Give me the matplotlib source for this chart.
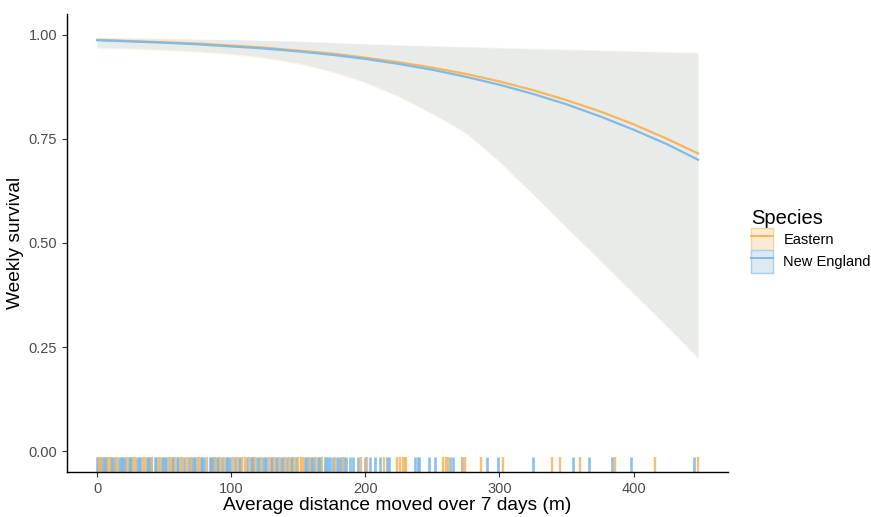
import numpy as np
import matplotlib
matplotlib.use("Agg")
import matplotlib.pyplot as plt
from matplotlib.patches import Patch
from matplotlib.lines import Line2D
import matplotlib.transforms as mtransforms

plt.rcParams['font.family'] = ['Liberation Sans', 'DejaVu Sans']

# fitted curves
dist = [0, 25, 50, 75, 100, 125, 150, 175, 200, 225, 250, 275, 300, 325, 350, 375, 400, 425, 448]
east_fit = [0.988, 0.985, 0.982, 0.979, 0.974, 0.969, 0.962, 0.955, 0.945, 0.934, 0.921, 0.906,
            0.888, 0.867, 0.843, 0.816, 0.785, 0.750, 0.715]
ne_fit = [0.987, 0.984, 0.981, 0.977, 0.972, 0.967, 0.960, 0.952, 0.942, 0.930, 0.916, 0.899,
          0.880, 0.858, 0.833, 0.804, 0.772, 0.737, 0.700]
east_lo = [0.967, 0.965, 0.962, 0.958, 0.952, 0.943, 0.930, 0.910, 0.884, 0.850, 0.809, 0.762,
           0.694, 0.615, 0.535, 0.456, 0.377, 0.298, 0.222]
east_hi = [0.994, 0.993, 0.992, 0.990, 0.989, 0.987, 0.985, 0.982, 0.979, 0.976, 0.974, 0.972,
           0.970, 0.968, 0.966, 0.964, 0.962, 0.960, 0.958]
ne_lo = [0.970, 0.968, 0.965, 0.961, 0.955, 0.946, 0.933, 0.913, 0.887, 0.853, 0.812, 0.765,
         0.697, 0.618, 0.538, 0.459, 0.380, 0.300, 0.225]
ne_hi = [0.993, 0.992, 0.991, 0.989, 0.988, 0.986, 0.984, 0.981, 0.978, 0.975, 0.973, 0.971,
         0.968, 0.966, 0.964, 0.962, 0.960, 0.958, 0.956]

# rug positions (distance moved, m)
east_rug = [1.5, 3, 8, 9.5, 14, 15, 22, 27, 28.5, 34, 35.5, 41, 46, 47, 53.5, 54.5, 58, 62.5,
            63.5, 67, 70, 75, 76, 82, 88, 92, 95, 101, 104, 108, 110, 113, 118, 122, 128, 132,
            136, 140, 143, 147, 150, 152, 153.5, 158, 163, 168, 177.7, 183, 197, 201, 214,
            223.6, 226, 228, 229.7, 230.3, 258.2, 260, 261.4, 272.4, 274.3, 286.2, 302.4,
            338.8, 345, 360.1, 386.4, 416.1, 447.8]
ne_rug = [0, 0.7, 2.3, 4, 5, 6.2, 7, 10.5, 11.5, 12.5, 16.5, 17.5, 18.5, 19.5, 20.5, 23.5,
          24.5, 25.5, 30, 31, 32, 37, 38, 39, 40, 43, 44, 48.5, 49.5, 50.5, 51.5, 56, 57, 59.5,
          60.5, 65, 68.5, 71, 72, 73, 77.5, 78.5, 79.5, 84, 85, 86, 87, 89.5, 90.5, 93.5, 96,
          97, 98, 99, 102.5, 105.5, 106.5, 111.5, 114.5, 115.5, 116.5, 119.5, 120.5, 124, 125,
          126, 129.5, 130.5, 133.5, 134.5, 137.5, 138.5, 141.5, 144.5, 145.5, 148.5, 155, 156,
          157, 159.5, 160.5, 161.5, 164.5, 165.5, 166.5, 170, 171, 172, 174, 176, 179, 180.5,
          182, 184, 185.5, 188.8, 191, 194.8, 200, 203.7, 207.4, 211, 216, 218, 237.2, 239.2,
          240, 247.1, 252, 263.2, 265.7, 272.4, 290.5, 299.1, 324.7, 354.9, 366.8, 384.1,
          398.3, 444.8]

species = ['Eastern', 'New England']
orange = '#F8B55C'
blue = '#7EBBE9'

fig = plt.figure(figsize=(8.71, 5.17), dpi=100)
ax = fig.add_axes([0.0769, 0.087, 0.759, 0.886])

ax.fill_between(dist, east_lo, east_hi, color=orange, alpha=0.13, lw=0)
ax.fill_between(dist, ne_lo, ne_hi, color=blue, alpha=0.16, lw=0)
ax.plot(dist, east_fit, color=orange, lw=1.6)
ax.plot(dist, ne_fit, color=blue, lw=1.6)

trans = mtransforms.blended_transform_factory(ax.transData, ax.transAxes)
ax.vlines(ne_rug, 0, 0.032, transform=trans, color=blue, lw=1.9, alpha=0.9)
ax.vlines(east_rug, 0, 0.032, transform=trans, color=orange, lw=1.7, alpha=0.85)

ax.set_xlim(-22.4, 470.4)
ax.set_ylim(-0.05, 1.05)
ax.set_xticks([0, 100, 200, 300, 400])
ax.set_yticks([0, 0.25, 0.5, 0.75, 1.0])
ax.set_yticklabels(['0.00', '0.25', '0.50', '0.75', '1.00'])
ax.tick_params(colors='#333333', labelcolor='#4D4D4D', labelsize=10.5, length=3.5, width=0.8)
for s in ['top', 'right']:
    ax.spines[s].set_visible(False)
for s in ['left', 'bottom']:
    ax.spines[s].set_linewidth(1.0)
    ax.spines[s].set_color('black')

ax.set_xlabel('Average distance moved over 7 days (m)', fontsize=13.8, labelpad=1)
ax.set_ylabel('Weekly survival', fontsize=13.8, labelpad=3)

handles = [
    (Patch(facecolor='#FBEBD3', edgecolor='#F7D29C', lw=1), Line2D([], [], color=orange, lw=1.4)),
    (Patch(facecolor='#DDE9F3', edgecolor='#A9D0EE', lw=1), Line2D([], [], color=blue, lw=1.4)),
]
leg = ax.legend(handles, species, title='Species', loc='center left',
                bbox_to_anchor=(1.035, 0.505), frameon=False, fontsize=10.5,
                title_fontsize=14.5, handlelength=1.5, handleheight=2.0,
                handletextpad=0.7, labelspacing=0.0, borderaxespad=0, borderpad=0)
leg._legend_box.align = 'left'

fig.savefig('out.png', dpi=100)
